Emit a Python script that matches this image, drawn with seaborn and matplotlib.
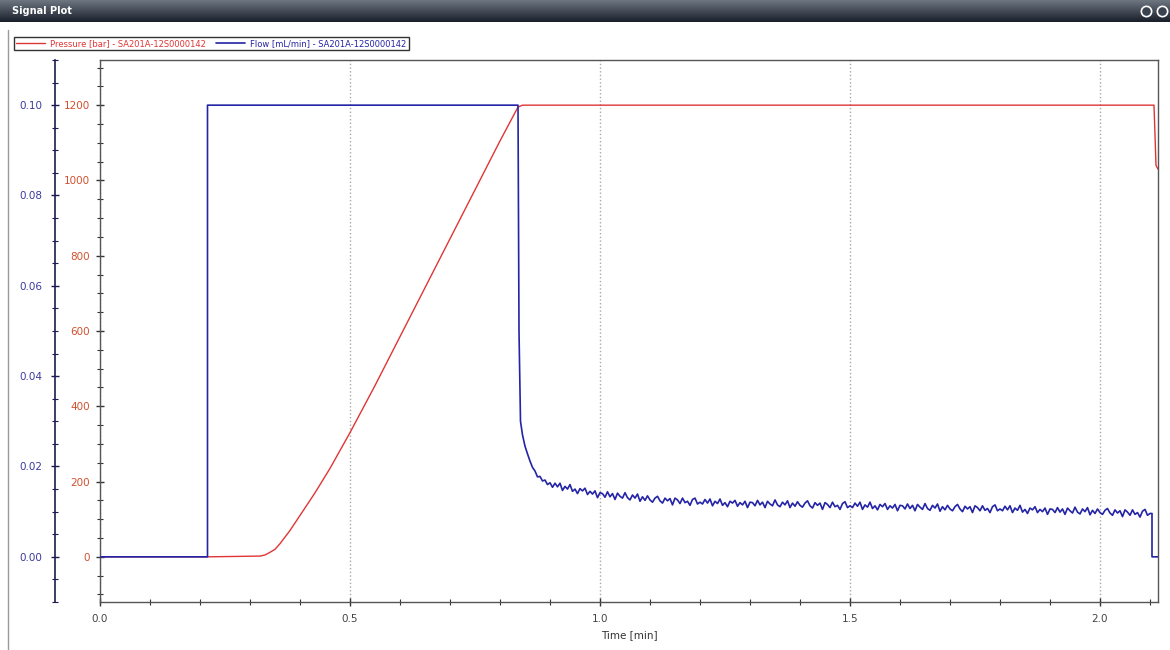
import numpy as np
import pandas as pd
import matplotlib
matplotlib.use('Agg')
import matplotlib.pyplot as plt
import seaborn as sns
from matplotlib.ticker import MultipleLocator
from matplotlib.lines import Line2D
from matplotlib.colors import LinearSegmentedColormap

# ---- data ----
# pressure trace [bar]
pressure_time = [0.0, 0.215, 0.32, 0.33, 0.34, 0.35, 0.36, 0.38, 0.40, 0.43, 0.46,
                 0.50, 0.55, 0.60, 0.65, 0.70, 0.75, 0.80, 0.83, 0.836, 0.845,
                 2.108, 2.112, 2.116]
pressure_bar = [0, 0, 2, 5, 12, 20, 35, 70, 110, 170, 235,
                330, 455, 585, 715, 845, 975, 1105, 1180, 1195, 1200,
                1200, 1040, 1030]

# flow trace [mL/min]: step up, plateau, sharp drop
flow_head_time = [0.0, 0.215, 0.215, 0.836, 0.838, 0.841, 0.845]
flow_head = [0.0, 0.0, 0.100, 0.100, 0.050, 0.030, 0.027]

# noisy decay, one reading every 0.005 min from 0.850 to 2.100
# (values in 1e-4 mL/min)
flow_tail_e4 = [
    245, 228, 212, 198, 190, 177, 178, 168, 170, 160, 164,
    154, 163, 155, 163, 147, 156, 150, 160, 145, 150, 140, 151, 146, 152, 138, 145, 139, 146, 131, 142,
    140, 132, 144, 133, 140, 127, 141, 134, 130, 142, 131, 126, 137, 130, 139, 123, 133, 125, 135, 126,
    121, 130, 134, 124, 119, 130, 124, 129, 115, 130, 126, 118, 130, 120, 123, 114, 127, 130, 117, 121,
    117, 127, 119, 128, 113, 123, 118, 128, 114, 120, 111, 123, 119, 125, 112, 120, 115, 123, 109, 121,
    120, 113, 125, 115, 121, 109, 123, 117, 113, 126, 115, 111, 121, 115, 124, 109, 119, 112, 122, 114,
    110, 119, 124, 113, 108, 120, 114, 119, 105, 120, 116, 109, 121, 111, 114, 105, 118, 122, 109, 113,
    109, 119, 112, 121, 105, 115, 110, 121, 107, 113, 104, 116, 111, 118, 105, 113, 108, 116, 102, 114,
    113, 106, 117, 107, 114, 102, 116, 110, 105, 118, 107, 103, 114, 108, 117, 101, 111, 104, 114, 106,
    102, 111, 116, 106, 100, 112, 106, 111, 98, 113, 109, 102, 113, 103, 107, 98, 111, 115, 102, 106,
    102, 112, 104, 113, 98, 108, 103, 114, 99, 105, 96, 108, 104, 111, 98, 105, 100, 108, 94, 106,
    105, 98, 109, 99, 106, 94, 108, 102, 97, 110, 99, 95, 106, 100, 109, 93, 103, 96, 106, 98,
    94, 103, 107, 97, 92, 104, 97, 102, 89, 104, 99, 92, 104, 94, 98, 88, 101, 105, 92, 96,
]
flow_tail = [v / 10000 for v in flow_tail_e4]
flow_tail_time = list(np.round(np.linspace(0.85, 2.10, len(flow_tail)), 3))

# flow switched off at the end
flow_end_time = [2.104, 2.104, 2.116]
flow_end = [0.0096, 0.0, 0.0]

pressure_label = 'Pressure [bar] - SA201A-12S0000142'
flow_label = 'Flow [mL/min] - SA201A-12S0000142'

red = '#e03535'
blue = '#2424a6'

df_p = pd.DataFrame({'Time': pressure_time, 'Pressure': pressure_bar})
df_f = pd.DataFrame({'Time': flow_head_time + flow_tail_time + flow_end_time,
                     'Flow': flow_head + flow_tail + flow_end})

sns.set_style('ticks')
plt.rcParams['font.family'] = ['DejaVu Sans']

fig = plt.figure(figsize=(11.7, 6.5), dpi=100)
fig.patch.set_facecolor('white')

# plot area
ax = fig.add_axes([100 / 1170, 1 - 602 / 650, 1058 / 1170, 542 / 650])
sns.lineplot(data=df_p, x='Time', y='Pressure', ax=ax, color=red, lw=1,
             estimator=None, sort=False, label=pressure_label, legend=False)
ax.set_xlim(0, 2.116)
ax.set_ylim(-120, 1320)
ax.xaxis.set_major_locator(MultipleLocator(0.5))
ax.xaxis.set_minor_locator(MultipleLocator(0.1))
ax.xaxis.set_major_formatter(matplotlib.ticker.FormatStrFormatter('%.1f'))
ax.yaxis.set_major_locator(MultipleLocator(200))
ax.yaxis.set_minor_locator(MultipleLocator(50))
ax.grid(axis='x', which='major', linestyle=':', color='#a8a8a8', lw=1)
ax.set_xlabel('Time [min]', fontsize=7.5, color='#333333', labelpad=4)
ax.set_ylabel('')
ax.tick_params(axis='both', which='major', direction='inout', length=6, width=1,
               labelsize=7.5, color='#333333')
ax.tick_params(axis='both', which='minor', direction='inout', length=4, width=0.8,
               color='#333333')
ax.tick_params(axis='x', which='major', pad=6, labelcolor='#444444')
ax.tick_params(axis='y', which='major', pad=4, labelcolor='#d2502e')
for s in ax.spines.values():
    s.set_color('#555555')
    s.set_linewidth(1)

# flow axis, offset to the left
ax2 = ax.twinx()
sns.lineplot(data=df_f, x='Time', y='Flow', ax=ax2, color=blue, lw=1.2,
             estimator=None, sort=False, label=flow_label, legend=False)
ax2.set_ylim(-0.01, 0.11)
ax2.yaxis.set_major_locator(MultipleLocator(0.02))
ax2.yaxis.set_minor_locator(MultipleLocator(0.005))
ax2.yaxis.set_major_formatter(matplotlib.ticker.FormatStrFormatter('%.2f'))
ax2.yaxis.set_ticks_position('left')
ax2.yaxis.set_label_position('left')
ax2.spines['left'].set_visible(True)
ax2.spines['left'].set_position(('outward', 32.4))
ax2.spines['left'].set_color('#1c1c50')
ax2.spines['left'].set_linewidth(1.2)
ax2.spines['right'].set_visible(False)
ax2.spines['top'].set_visible(False)
ax2.spines['bottom'].set_visible(False)
ax2.set_ylabel('')
ax2.tick_params(axis='y', which='major', direction='inout', length=6, width=1,
                labelsize=7.5, pad=6, color='#1c1c50', labelcolor='#3a3aa0')
ax2.tick_params(axis='y', which='minor', direction='inout', length=4, width=0.8,
                color='#1c1c50')

# legend above the plot
h1, l1 = ax.get_legend_handles_labels()
h2, l2 = ax2.get_legend_handles_labels()
leg = fig.legend(h1 + h2, l1 + l2, loc='lower left', ncol=2,
                 bbox_to_anchor=(10 / 1170, 1 - 54 / 650), fontsize=6,
                 frameon=True, fancybox=False, edgecolor='black',
                 handlelength=3.5, borderpad=0.25, columnspacing=1.2,
                 handletextpad=0.6)
leg.get_frame().set_linewidth(1)
for txt, col in zip(leg.get_texts(), [red, blue]):
    txt.set_color(col)

# window title bar
bar = fig.add_axes([0, 1 - 22 / 650, 1, 22 / 650])
grad = np.linspace(0, 1, 22).reshape(-1, 1)
cmap = LinearSegmentedColormap.from_list('bar', ['#6c7480', '#1a212b'])
bar.imshow(grad, aspect='auto', cmap=cmap, extent=[0, 1170, 22, 0])
bar.set_xlim(0, 1170)
bar.set_ylim(22, 0)
bar.axis('off')
bar.text(12, 11, 'Signal Plot', color='white', fontsize=7, fontweight='bold',
         va='center', ha='left')
bar.scatter([1146, 1162], [11, 11], s=55, facecolor='#3a4250',
            edgecolor='white', lw=1.2)

# window border on the left
fig.add_artist(Line2D([8 / 1170, 8 / 1170], [0, 1 - 30 / 650],
                      color='#9a9a9a', lw=1, transform=fig.transFigure))

fig.savefig('out.png', dpi=100)
